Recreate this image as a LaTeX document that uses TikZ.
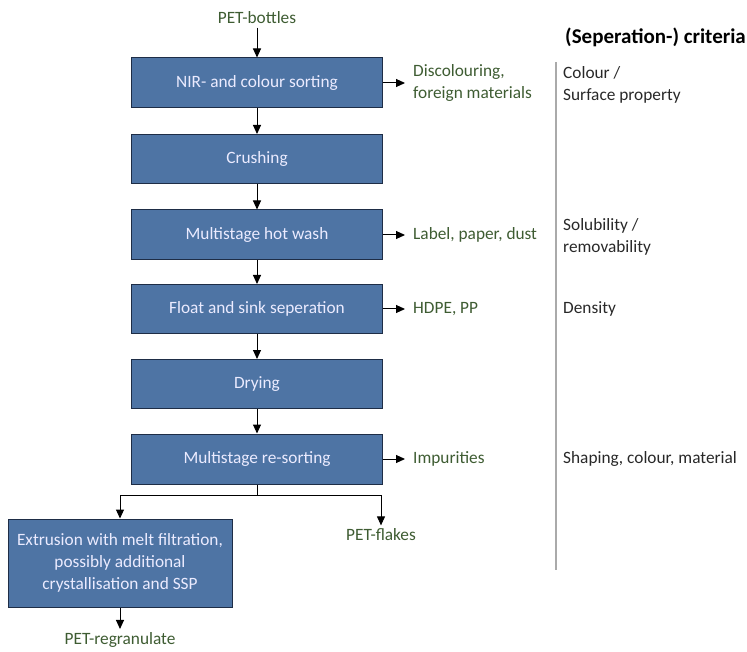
\documentclass[tikz,border=0pt]{standalone}
\usepackage{fontspec}
\setmainfont{Carlito}
\usetikzlibrary{arrows.meta}
\definecolor{boxfill}{RGB}{78,116,164}
\definecolor{boxline}{RGB}{30,45,70}
\definecolor{lbl}{RGB}{62,92,50}
\definecolor{crit}{RGB}{40,40,40}
\definecolor{sep}{RGB}{170,170,170}
\begin{document}
\begin{tikzpicture}[x=1pt,y=-1pt,
  font=\fontsize{17.3}{21.5}\selectfont,
  stepbox/.style={draw=boxline,line width=1pt,fill=boxfill,text=white!92!blue,minimum width=251pt,minimum height=50pt,inner sep=0pt,align=center},
  outlbl/.style={text=lbl,align=left,anchor=west,inner sep=0pt},
  critlbl/.style={text=crit,align=left,anchor=west,inner sep=0pt},
  arr/.style={-{Triangle[length=9pt,width=8pt]},line width=1pt,black}]
\useasboundingbox (0,0) rectangle (747,652);
\node[text=lbl] (bottles) at (257,18) {PET-bottles};
\node[stepbox] (nir) at (257,83) {NIR- and colour sorting};
\node[stepbox,minimum height=49pt] (crush) at (257,159) {Crushing};
\node[stepbox] (wash) at (257,235) {Multistage hot wash};
\node[stepbox,minimum height=49pt] (float) at (257,309) {Float and sink seperation};
\node[stepbox,minimum height=49pt] (dry) at (257,384) {Drying};
\node[stepbox] (resort) at (257,459) {Multistage re-sorting};
\node[stepbox,minimum width=224pt,minimum height=88pt,font=\fontsize{17.3}{22}\selectfont] (extr) at (120,563) {Extrusion with melt filtration,\\possibly additional\\crystallisation and SSP};
\node[text=lbl] (flakes) at (381,535) {PET-flakes};
\node[text=lbl] (regran) at (120,640) {PET-regranulate};
\node[outlbl] (o1) at (413,83) {Discolouring,\\foreign materials};
\node[outlbl] (o2) at (413,235) {Label, paper, dust};
\node[outlbl] (o3) at (413,309) {HDPE, PP};
\node[outlbl] (o4) at (413,459) {Impurities};
\node[font=\fontsize{21}{25}\selectfont\bfseries,text=black,anchor=west,inner sep=0pt] (head) at (565,37) {(Seperation-) criteria};
\coordinate (s1) at (556,62);
\coordinate (s2) at (556,570);
\draw[sep,line width=1.2pt] (s1) -- (s2);
\node[critlbl] (c1) at (563,85) {Colour /\\Surface property};
\node[critlbl] (c2) at (563,237) {Solubility /\\removability};
\node[critlbl] (c3) at (563,309) {Density};
\node[critlbl] (c4) at (563,459) {Shaping, colour, material};
\draw[arr] (bottles) -- (nir);
\draw[arr] (nir) -- (crush);
\draw[arr] (crush) -- (wash);
\draw[arr] (wash) -- (float);
\draw[arr] (float) -- (dry);
\draw[arr] (dry) -- (resort);
\draw[arr] (nir.east) -- ([xshift=-8pt]o1.west);
\draw[arr] (wash.east) -- ([xshift=-8pt]o2.west);
\draw[arr] (float.east) -- ([xshift=-8pt]o3.west);
\draw[arr] (resort.east) -- ([xshift=-8pt]o4.west);
\coordinate (br) at (257,495);
\draw[line width=1pt] (resort.south) -- (br);
\draw[arr] (br) -| (extr.north);
\draw[arr] (br) -| (flakes.north);
\draw[arr] (extr) -- (regran);
\end{tikzpicture}
\end{document}
